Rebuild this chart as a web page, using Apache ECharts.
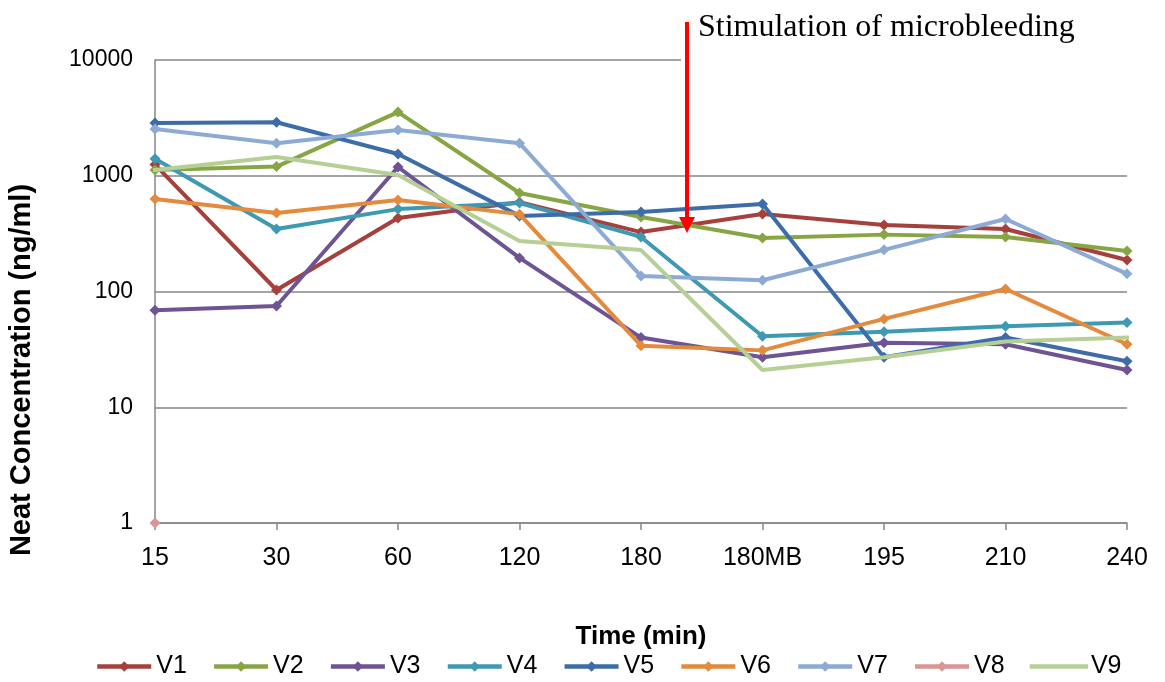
<!DOCTYPE html>
<html>
<head>
<meta charset="utf-8">
<script src="https://cdn.jsdelivr.net/npm/echarts@6/dist/echarts.min.js"></script>
<style>
  html, body { margin: 0; padding: 0; background: #fff; }
  #chart { width: 1165px; height: 682px; }
</style>
</head>
<body>
<div id="chart"></div>
<script>
// Sampling times (min); "180MB" is the 180-min sample after microbleeding
const categories = ['15', '30', '60', '120', '180', '180MB', '195', '210', '240'];

// Neat concentration (ng/ml) per volunteer
const V1 = [1250, 103, 432, 590, 326, 468, 375, 347, 187];
const V2 = [1120, 1200, 3550, 710, 440, 290, 310, 296, 224];
const V3 = [69, 75, 1190, 195, 40, 27, 36, 35, 21];
const V4 = [1400, 347, 515, 582, 296, 41, 45, 50, 54];
const V5 = [2860, 2900, 1540, 450, 487, 570, 27, 40, 25];
const V6 = [630, 476, 618, 466, 34, 31, 58, 105, 35];
const V7 = [2530, 1910, 2480, 1910, 136, 125, 229, 423, 142];
const V8 = [1, null, null, null, null, null, null, null, null];
const V9 = [1120, 1450, 1015, 273, 228, 21, 27, 37, 40];

// Log-axis tick labels
const yTickLabels = ['1', '10', '100', '1000', '10000'];

const seriesNames = ['V1', 'V2', 'V3', 'V4', 'V5', 'V6', 'V7', 'V8', 'V9'];
const seriesData = [V1, V2, V3, V4, V5, V6, V7, V8, V9];
const colors = ['#A5403D', '#88A544', '#6E5494', '#3E9AB2', '#3D6DA8', '#E48A3C', '#8DAAD4', '#D99694', '#B5CF94'];

const chart = echarts.init(document.getElementById('chart'));

const series = seriesNames.map((name, i) => ({
  name: name,
  type: 'line',
  data: seriesData[i],
  symbol: name === 'V9' ? 'none' : 'diamond',
  symbolSize: 11,
  connectNulls: false,
  lineStyle: { width: 4, color: colors[i], cap: name === 'V9' ? 'square' : 'butt' },
  itemStyle: { color: colors[i] },
  emphasis: { disabled: true },
  z: 2 + i
}));

// V9 is drawn without markers, so its legend entry is a plain line
const legendData = seriesNames.map(n => n === 'V9' ? { name: n, itemStyle: { opacity: 0 } } : { name: n });

chart.setOption({
  animation: false,
  backgroundColor: '#ffffff',
  textStyle: { fontFamily: 'Liberation Sans, Arial, sans-serif' },
  grid: { left: 155, right: 38, top: 60, bottom: 159 },
  legend: {
    data: legendData,
    left: 95,
    top: 654,
    padding: 0,
    itemWidth: 54,
    itemHeight: 13,
    itemGap: 25,
    lineStyle: { width: 4.5 },
    textStyle: { fontSize: 25, color: '#000', fontFamily: 'Liberation Sans, Arial, sans-serif' }
  },
  xAxis: {
    type: 'category',
    data: categories,
    boundaryGap: false,
    name: 'Time (min)',
    nameLocation: 'middle',
    nameGap: 101,
    nameTextStyle: { fontSize: 26, fontWeight: 'bold', color: '#000' },
    axisLine: { lineStyle: { color: '#868686', width: 1.5 } },
    axisTick: { show: true, length: 7, alignWithLabel: true, lineStyle: { color: '#868686', width: 1.5 } },
    axisLabel: { fontSize: 25, color: '#000', margin: 23 },
    splitLine: { show: false }
  },
  yAxis: {
    type: 'log',
    logBase: 10,
    min: 1,
    max: 10000,
    axisLine: { show: true, lineStyle: { color: '#868686', width: 1.5 } },
    axisTick: { show: false },
    axisLabel: {
      fontSize: 23, color: '#000', margin: 22,
      formatter: v => yTickLabels[Math.round(Math.log10(v))]
    },
    splitLine: { show: true, lineStyle: { color: '#868686', width: 1.5 } }
  },
  series: series,
  graphic: [
    // vertical axis title
    {
      type: 'text', x: 22, y: 370, rotation: Math.PI / 2, silent: true,
      style: {
        text: 'Neat Concentration (ng/ml)', fontSize: 29, fontWeight: 'bold',
        fontFamily: 'Liberation Sans, Arial, sans-serif', fill: '#000',
        align: 'center', verticalAlign: 'middle'
      }
    },
    // white box behind the annotation text
    { type: 'rect', shape: { x: 681, y: 0, width: 460, height: 64 }, style: { fill: '#ffffff' }, z: 100, silent: true },
    // annotation arrow
    { type: 'line', shape: { x1: 687, y1: 22, x2: 687, y2: 219 }, style: { stroke: '#FF0000', lineWidth: 4 }, z: 101, silent: true },
    { type: 'polygon', shape: { points: [[679, 217], [695, 217], [687, 233]] }, style: { fill: '#FF0000' }, z: 101, silent: true },
    {
      type: 'text', left: 698, top: 12, z: 102, silent: true,
      style: { text: 'Stimulation of microbleeding', fontFamily: 'Liberation Serif, Times New Roman, serif', fontSize: 32, fill: '#000' }
    }
  ]
});
</script>
</body>
</html>
